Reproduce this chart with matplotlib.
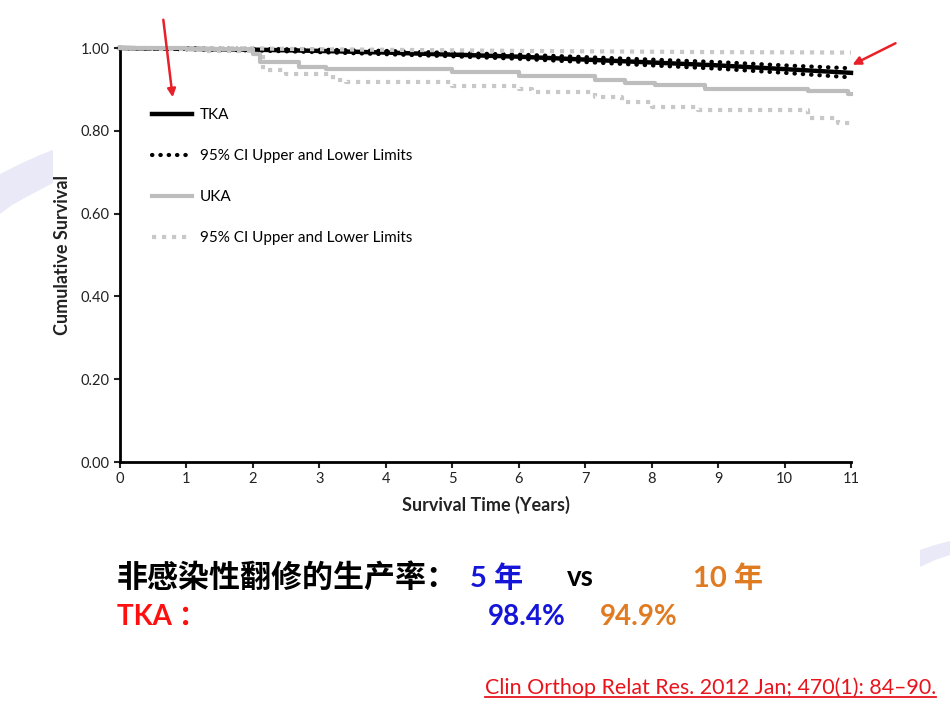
import matplotlib
matplotlib.use('Agg')
import matplotlib.pyplot as plt
from matplotlib.patches import Polygon, FancyArrowPatch
from matplotlib.lines import Line2D

plt.rcParams['font.family'] = ['Lato', 'Noto Sans CJK SC', 'DejaVu Sans']

# Kaplan-Meier survival, TKA
tka_years = [0, 1, 2, 3, 4, 5, 6, 7, 8, 9, 10, 11]
tka_surv = [1.0, 0.998, 0.996, 0.993, 0.989, 0.984, 0.979, 0.972, 0.965, 0.958, 0.949, 0.940]
tka_upper = [1.0, 0.999, 0.998, 0.996, 0.993, 0.988, 0.984, 0.978, 0.972, 0.966, 0.958, 0.951]
tka_lower = [1.0, 0.997, 0.994, 0.990, 0.985, 0.980, 0.974, 0.966, 0.958, 0.950, 0.940, 0.929]

# UKA
uka_years = [0, 1.0, 2.0, 2.1, 2.7, 3.1, 5.0, 6.0, 7.15, 7.6, 8.05, 8.8, 10.35, 10.95, 11.0]
uka_surv = [1.0, 0.998, 0.985, 0.967, 0.955, 0.949, 0.942, 0.933, 0.923, 0.915, 0.911, 0.902, 0.897, 0.888, 0.888]
uka_up_years = [0, 2, 3, 6, 9, 11]
uka_upper = [1.0, 0.999, 0.997, 0.993, 0.990, 0.989]
uka_lo_years = [0, 0.5, 1.3, 2.0, 2.15, 2.5, 3.2, 3.4, 5.0, 6.0, 6.2, 7.15, 7.55, 8.0, 8.7, 10.35, 10.8, 11.0]
uka_lower = [1.0, 0.997, 0.992, 0.985, 0.947, 0.937, 0.923, 0.917, 0.909, 0.900, 0.893, 0.882, 0.870, 0.858, 0.850, 0.830, 0.820, 0.814]

y_ticks = [0.0, 0.2, 0.4, 0.6, 0.8, 1.0]
x_ticks = list(range(0, 12))

W, H = 950, 713
fig = plt.figure(figsize=(9.5, 7.13), dpi=100)

def fx(px):
    return px / W

def fy(py):
    return 1 - py / H

# pale background swooshes (slide decoration)
swoosh_col = '#e9e9f8'
left_sw = [(0, 174), (20, 164), (40, 155), (53, 150), (53, 183), (30, 195), (12, 205), (0, 214)]
right_sw = [(920, 550), (935, 545), (950, 541), (950, 555), (935, 560), (920, 567)]
for pts in (left_sw, right_sw):
    fig.add_artist(Polygon([(fx(a), fy(b)) for a, b in pts], closed=True,
                           transform=fig.transFigure, facecolor=swoosh_col,
                           edgecolor='none', zorder=0))

ax = fig.add_axes([fx(120), fy(462), fx(851) - fx(120), fy(48) - fy(462)])
ax.patch.set_alpha(0)

dot = (0, (0.1, 1.9))
ax.plot(tka_years, tka_upper, color='black', lw=3, ls=dot, dash_capstyle='round', zorder=2,
        label='95% CI Upper and Lower Limits')
ax.plot(tka_years, tka_lower, color='black', lw=3, ls=dot, dash_capstyle='round', zorder=2)
ax.plot(tka_years, tka_surv, color='black', lw=3.2, zorder=2, label='TKA')

ax.plot(uka_up_years, uka_upper, color='#c8c8c8', lw=3, ls=(0, (1, 1.4)), zorder=3,
        label='95% CI Upper and Lower Limits ')
ax.plot(uka_lo_years, uka_lower, color='#c8c8c8', lw=3, ls=(0, (1, 1.4)), drawstyle='steps-post', zorder=3)
ax.plot(uka_years, uka_surv, color='#bdbdbd', lw=3, drawstyle='steps-post', zorder=3, label='UKA')

ax.set_xlim(0, 11)
ax.set_ylim(0, 1.0)
ax.set_xticks(x_ticks)
ax.set_yticks(y_ticks)
ax.set_yticklabels([f'{v:.2f}' for v in y_ticks])
ax.tick_params(labelsize=10.5, length=4, width=1.5, direction='out', colors='#222222')
for s in ('top', 'right'):
    ax.spines[s].set_visible(False)
for s in ('left', 'bottom'):
    ax.spines[s].set_linewidth(2)
for ln in ax.lines:
    ln.set_clip_on(False)

ax.set_xlabel('Survival Time (Years)', fontsize=13, fontweight='bold', labelpad=7, color='#222222')
ax.set_ylabel('Cumulative Survival', fontsize=13, fontweight='bold', labelpad=7, color='#222222')

h, l = ax.get_legend_handles_labels()
order = [1, 0, 3, 2]
ax.legend([h[i] for i in order], [l[i].strip() for i in order], loc='upper left',
          bbox_to_anchor=(0.0438, 0.854), frameon=False, fontsize=11,
          borderpad=0, borderaxespad=0, labelspacing=1.76, handlelength=2.6,
          handletextpad=0.55)

# red arrows
arrow_col = '#e8202a'
for (x0, y0), (x1, y1) in [((163, 17), (173, 100)), ((898, 42), (850, 66))]:
    fig.add_artist(FancyArrowPatch((fx(x0), fy(y0)), (fx(x1), fy(y1)),
                                   transform=fig.transFigure, arrowstyle='-|>',
                                   mutation_scale=12, color=arrow_col, lw=1.8))

# summary text below the chart
blue = '#1515d8'
orange = '#e07b22'
fig.text(fx(117), fy(578), '非感染性翻修的生产率：', fontsize=22.3, fontweight='bold',
         va='center', ha='left', family=['Noto Sans CJK SC'])
fig.text(fx(470), fy(578), '5 年', fontsize=21, fontweight='bold', color=blue, va='center', ha='left')
fig.text(fx(567), fy(578), 'vs', fontsize=20, fontweight='bold', color='black', va='center', ha='left')
fig.text(fx(693), fy(578), '10 年', fontsize=21, fontweight='bold', color=orange, va='center', ha='left')
fig.text(fx(117), fy(617), 'TKA ：', fontsize=20, fontweight='bold', color='#ff1010', va='center', ha='left')
fig.text(fx(488), fy(617), '98.4%', fontsize=20, fontweight='bold', color=blue, va='center', ha='left')
fig.text(fx(600), fy(617), '94.9%', fontsize=20, fontweight='bold', color=orange, va='center', ha='left')

ref_col = '#e8141c'
ref = fig.text(fx(936), fy(688), 'Clin Orthop Relat Res. 2012 Jan; 470(1): 84\u201390.',
               fontsize=15.4, color=ref_col, va='center', ha='right')

fig.canvas.draw()
bb = ref.get_window_extent().transformed(fig.transFigure.inverted())
fig.add_artist(Line2D([bb.x0, bb.x1], [bb.y0 + 0.002, bb.y0 + 0.002], transform=fig.transFigure,
                      color=ref_col, lw=1.3))

fig.savefig('out.png', dpi=100)
